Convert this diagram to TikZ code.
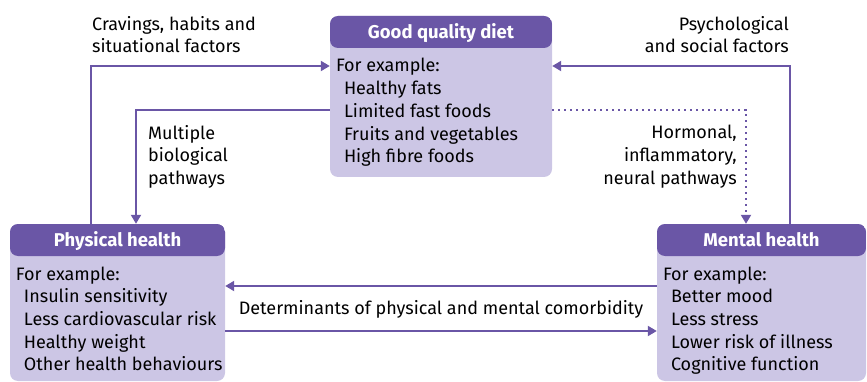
\documentclass[tikz,border=0pt]{standalone}
\usepackage{fontspec}
\setmainfont{Fira Sans}
\usepackage{xcolor}
\usetikzlibrary{positioning,arrows.meta}
\definecolor{bmjpurple}{RGB}{106,86,166}
\definecolor{bmjlilac}{RGB}{204,198,229}
\tikzstyle{box} = [fill=bmjlilac, rounded corners=8pt, inner sep=0pt,
	path picture={\fill[bmjpurple] (path picture bounding box.north west) rectangle ([yshift=-32pt]path picture bounding box.north east);}]
\tikzstyle{head} = [text=white, font=\fontsize{18.5pt}{22.7pt}\selectfont\bfseries, inner sep=0pt, anchor=base]
\tikzstyle{list} = [align=left, inner sep=0pt, anchor=north west, font=\fontsize{18pt}{22.7pt}\selectfont]
\tikzstyle{lbl} = [inner sep=0pt, font=\fontsize{18pt}{22.7pt}\selectfont]
\tikzstyle{arr} = [draw=bmjpurple, line width=2pt, -{Triangle[length=9pt,width=10pt]}]

\begin{document}
\begin{tikzpicture}[x=1pt, y=-1pt]
		\useasboundingbox (0,0) rectangle (867,382);
		
		\node [box, minimum width=222pt, minimum height=161pt] (diet) at (441,96.5) {};
		\node [box, minimum width=215pt, minimum height=157pt] (phys) at (117.5,302.5) {};
		\node [box, minimum width=209pt, minimum height=157pt] (ment) at (761.5,302.5) {};
		
		\node [head] (diethead) at ([yshift=-22.5pt]diet.north) {Good quality diet};
		\node [head] (physhead) at ([yshift=-22.5pt]phys.north) {Physical health};
		\node [head] (menthead) at ([yshift=-22.5pt]ment.north) {Mental health};
		
		\node [list] (dietlist) at ([xshift=6pt,yshift=-42.5pt]diet.north west) {For example:\\
			\hspace*{8pt}Healthy fats\\
			\hspace*{8pt}Limited fast foods\\
			\hspace*{8pt}Fruits and vegetables\\
			\hspace*{8pt}High fibre foods};
		\node [list] (physlist) at ([xshift=6pt,yshift=-42.5pt]phys.north west) {For example:\\
			\hspace*{8pt}Insulin sensitivity\\
			\hspace*{8pt}Less cardiovascular risk\\
			\hspace*{8pt}Healthy weight\\
			\hspace*{8pt}Other health behaviours};
		\node [list] (mentlist) at ([xshift=6pt,yshift=-42.5pt]ment.north west) {For example:\\
			\hspace*{8pt}Better mood\\
			\hspace*{8pt}Less stress\\
			\hspace*{8pt}Lower risk of illness\\
			\hspace*{8pt}Cognitive function};
		
		\draw [arr] ([xshift=-26.5pt]phys.north) |- ([yshift=30.5pt]diet.west);
		\draw [arr] ([yshift=-13.5pt]diet.west) -| ([xshift=18.5pt]phys.north);
		\draw [arr] ([xshift=28.5pt]ment.north) |- ([yshift=30.5pt]diet.east);
		\draw [arr, dash pattern=on 2pt off 4pt] ([yshift=-13.5pt]diet.east) -| ([xshift=-15.5pt]ment.north);
		\draw [arr] ([yshift=16.5pt]ment.west) -- ([yshift=16.5pt]phys.east);
		\draw [arr] ([yshift=-28.5pt]phys.east) -- ([yshift=-28.5pt]ment.west);
		
		\node [lbl, align=left, anchor=north west] (craving) at (92,16) {Cravings, habits and\\situational factors};
		\node [lbl, align=right, anchor=north east] (psych) at (789,16) {Psychological\\and social factors};
		\node [lbl, align=left, anchor=north west] (biolog) at (148,125) {Multiple\\biological\\pathways};
		\node [lbl, align=right, anchor=north east] (hormon) at (737,125) {Hormonal,\\inflammatory,\\neural pathways};
		\node [lbl] (comorb) at (441,309) {Determinants of physical and mental comorbidity};
	\end{tikzpicture}
\end{document}
